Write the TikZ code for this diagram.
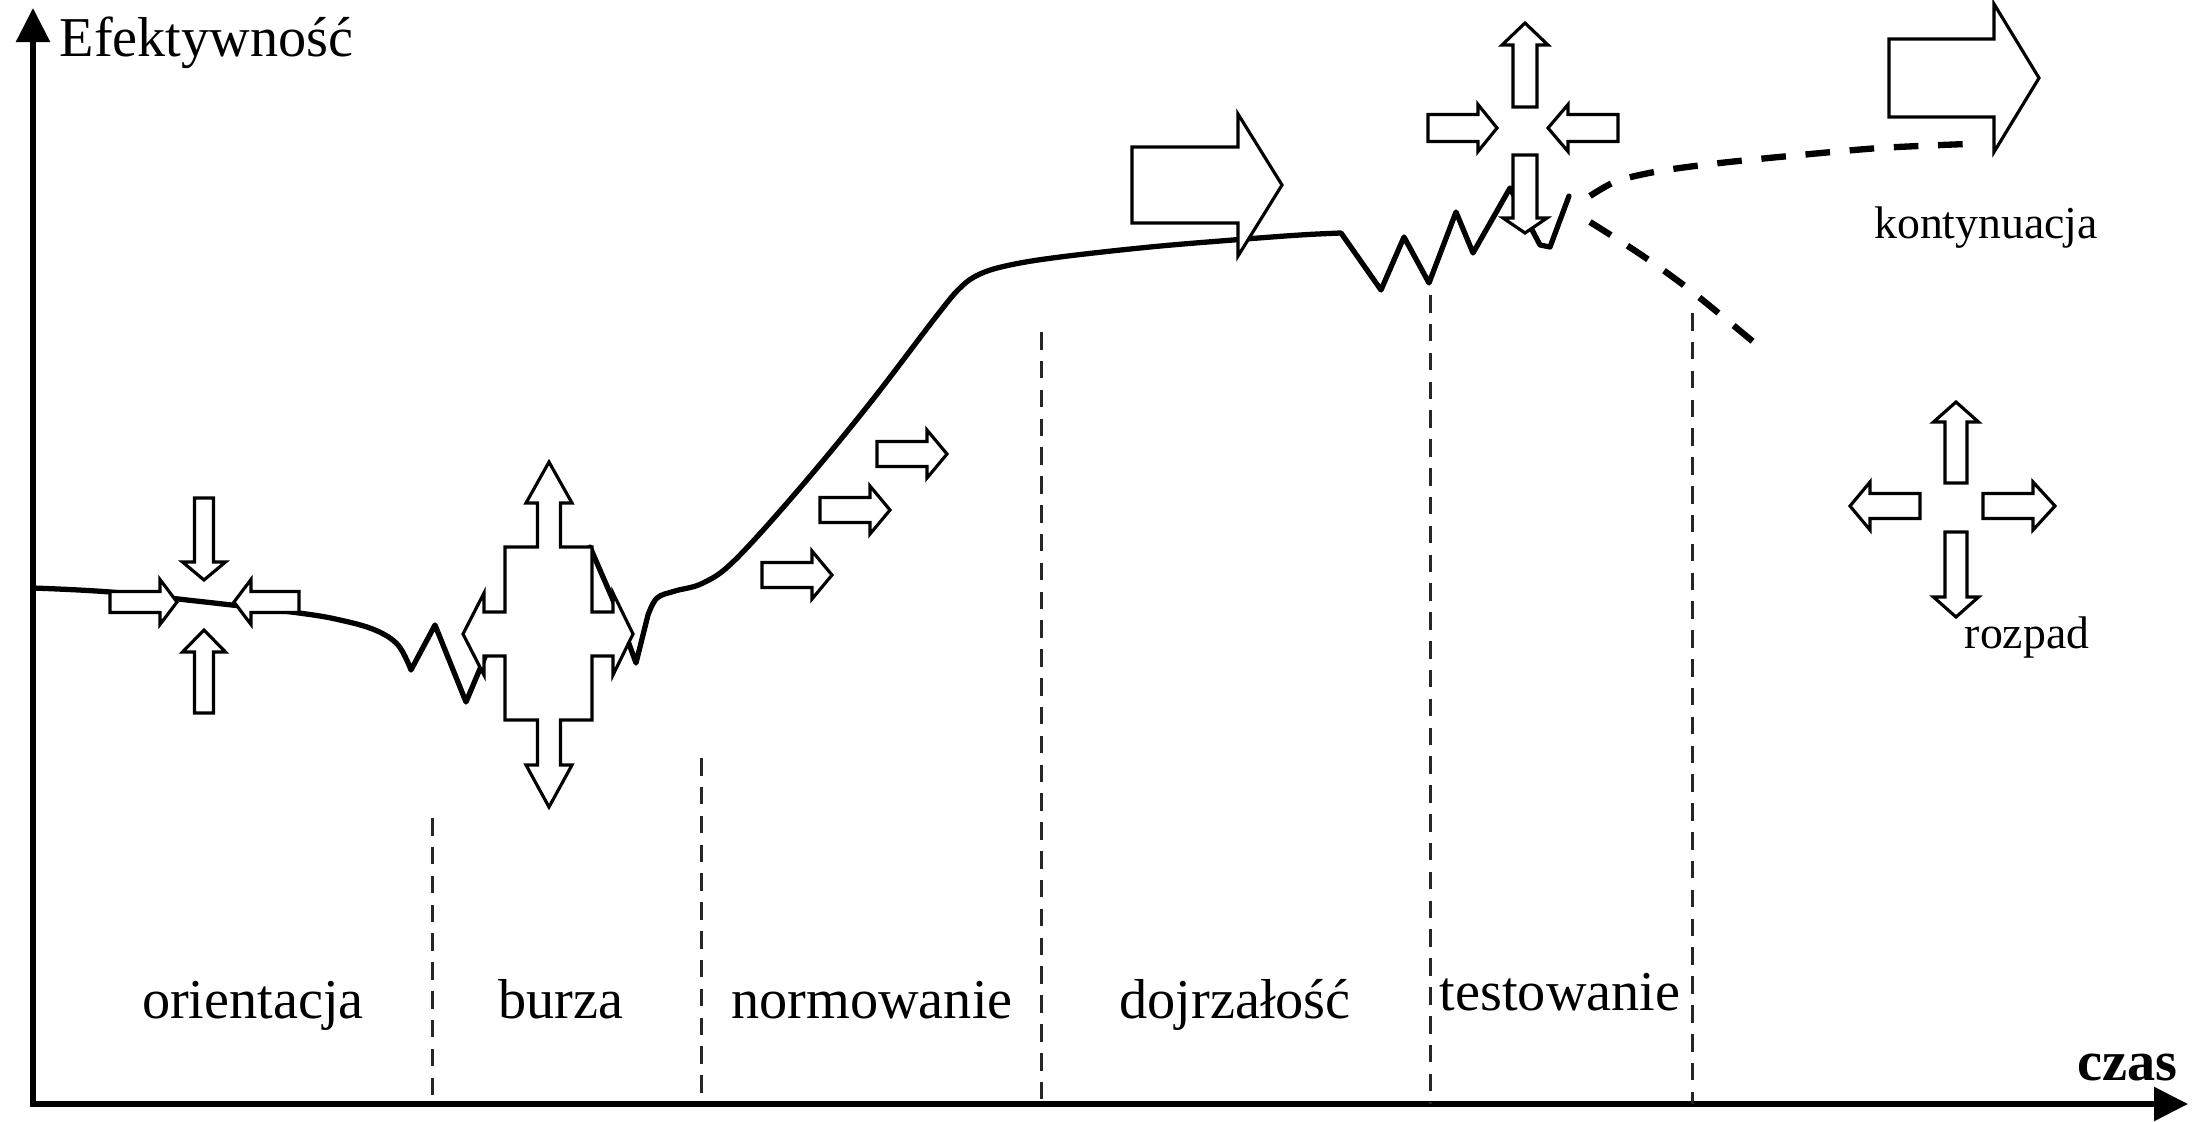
\documentclass[tikz,border=0pt]{standalone}
\usepackage{fontspec}
\setmainfont{Liberation Serif}
\usetikzlibrary{arrows.meta}
\tikzset{
  axisline/.style={line width=1.6pt, -{Triangle[length=0.34cm, width=0.33cm]}},
  curveline/.style={line width=1.5pt, line join=round, line cap=round},
  branch/.style={line width=1.8pt, dash pattern=on 7pt off 5.6pt},
  phaseline/.style={line width=0.85pt, dash pattern=on 5pt off 3.2pt, draw=black!85},
  barrow/.style={draw=black, fill=white, line width=0.9pt, line join=miter},
  lbl/.style={font=\fontsize{16}{19}\selectfont, inner sep=0pt, anchor=base},
  slbl/.style={font=\fontsize{13}{15}\selectfont, inner sep=0pt, anchor=base},
}
% block arrow: tip x, tip y, angle, total length, head length, shaft half width, head half width
\newcommand{\blockarr}[7]{%
  \begin{scope}[shift={(#1,#2)}, rotate=#3]
    \draw[barrow] (0,0) -- (-#5,#7) -- (-#5,#6) -- (-#4,#6) -- (-#4,-#6) -- (-#5,-#6) -- (-#5,-#7) -- cycle;
  \end{scope}}
\begin{document}
\begin{tikzpicture}[x=0.01cm, y=-0.01cm]
\useasboundingbox (0,0) rectangle (2206,1121);

% axes
\coordinate (O) at (33,1104);
\coordinate (ytop) at (33,8);
\coordinate (xstart) at (30,1104);
\coordinate (xend) at (2188,1104);
\draw[axisline] (O) -- (ytop);
\draw[axisline] (xstart) -- (xend);

% phase separators
\foreach \i/\x/\y in {1/432/818, 2/701/758, 3/1041/332, 4/1430/295, 5/1692/313}{
  \coordinate (t\i) at (\x,\y);
  \coordinate (b\i) at (\x,1104);
  \draw[phaseline] (t\i) -- (b\i);
}

% main curve, left part
\draw[curveline] plot[smooth, tension=0.6] coordinates {(33,588) (110,592) (205,602) (299,613) (340,620) (375,630) (398,645) (411,670)}
  -- (435,625) -- (466,702) -- (490,645);
% main curve, right part
\draw[curveline] (590,547) -- (613,600) -- (636,663) -- plot[smooth, tension=0.6] coordinates {(648,615) (657,598) (675,591) (703,583) (735,560) (800,488) (870,403) (935,318) (960,288) (980,274) (1010,265) (1060,257) (1150,247) (1233,240) (1300,235) (1341,233)}
  -- (1381,290) -- (1404,237) -- (1429,283) -- (1456,212) -- (1473,253) -- (1510,188) -- (1540,245) -- (1550,247) -- (1569,196);

% branches
\draw[branch] plot[smooth] coordinates {(1590,196) (1617,181) (1660,171) (1720,163) (1800,155) (1880,148) (1966,144)};
\draw[branch] plot[smooth] coordinates {(1590,222) (1640,254) (1690,290) (1757,345)};

% burza cross
\draw[barrow] (549,462) -- (572,503) -- (560.5,503) -- (560.5,547) -- (592,547) -- (592,612) -- (613,612) -- (613,593) -- (633,634) -- (613,675) -- (613,656) -- (592,656) -- (592,720) -- (560.5,720) -- (560.5,765) -- (572,765) -- (549,807) -- (526,765) -- (537.5,765) -- (537.5,720) -- (505,720) -- (505,656) -- (484,656) -- (484,675) -- (463,634) -- (484,593) -- (484,612) -- (505,612) -- (505,547) -- (537.5,547) -- (537.5,503) -- (526,503) -- cycle;

% orientacja arrows
\blockarr{177}{602}{0}{67}{17}{10.5}{22.5}
\blockarr{234}{602}{180}{65}{17}{10.5}{22.5}
\blockarr{204}{580}{270}{82}{18}{9.5}{21.5}
\blockarr{204}{630}{90}{83}{22}{9.5}{21.5}
% normowanie arrows
\blockarr{832}{575}{0}{70}{20}{12.5}{24}
\blockarr{890}{510}{0}{70}{20}{12.5}{24}
\blockarr{947}{454}{0}{70}{20}{12.5}{24}
% dojrzalosc arrow
\blockarr{1282}{185}{0}{150}{44}{38}{71}
% testowanie arrows
\blockarr{1525}{23}{90}{84}{22}{12}{23}
\blockarr{1497}{128}{0}{69}{19}{13.5}{23.5}
\blockarr{1548}{128}{180}{70}{20}{13.5}{23.5}
\blockarr{1525}{233}{270}{78}{15}{12}{22}
% kontynuacja arrow
\blockarr{2039}{78}{0}{150}{45}{39}{74}
% rozpad arrows
\blockarr{1956}{402}{90}{81}{20}{11}{22.5}
\blockarr{1850}{506}{180}{70}{20}{12.5}{24}
\blockarr{2055}{506}{0}{72}{22}{12.5}{24}
\blockarr{1956}{617}{270}{85}{20}{11}{22.5}

% labels
\node[lbl, anchor=base west] (eff) at (59,57) {Efektywność};
\node[lbl, font={\fontsize{16}{19}\selectfont\bfseries}] (czas) at (2127,1080) {czas};
\node[lbl] (orient) at (253,1018) {orientacja};
\node[lbl] (burza) at (561,1018) {burza};
\node[lbl] (norm) at (872,1018) {normowanie};
\node[lbl] (dojrz) at (1235,1018) {dojrzałość};
\node[lbl] (test) at (1560,1010) {testowanie};
\node[slbl] (kont) at (1986,238) {kontynuacja};
\node[slbl] (rozpad) at (2027,648) {rozpad};
\end{tikzpicture}
\end{document}
